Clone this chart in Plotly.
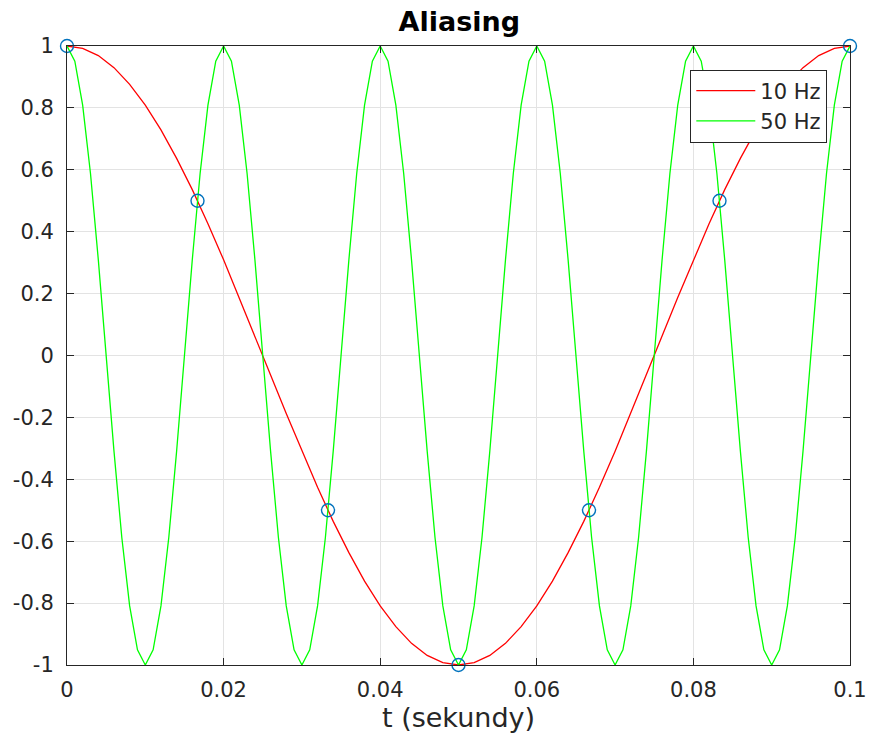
import plotly.graph_objects as go

# 10 Hz signal (red), sampled every 0.002 s
t_red = [0.000, 0.002, 0.004, 0.006, 0.008, 0.010, 0.012, 0.014, 0.016, 0.018,
         0.020, 0.022, 0.024, 0.026, 0.028, 0.030, 0.032, 0.034, 0.036, 0.038,
         0.040, 0.042, 0.044, 0.046, 0.048, 0.050, 0.052, 0.054, 0.056, 0.058,
         0.060, 0.062, 0.064, 0.066, 0.068, 0.070, 0.072, 0.074, 0.076, 0.078,
         0.080, 0.082, 0.084, 0.086, 0.088, 0.090, 0.092, 0.094, 0.096, 0.098, 0.100]
y_red = [1.000, 0.992, 0.969, 0.930, 0.876, 0.809, 0.729, 0.637, 0.536, 0.426,
         0.309, 0.187, 0.063, -0.063, -0.187, -0.309, -0.426, -0.536, -0.637, -0.729,
         -0.809, -0.876, -0.930, -0.969, -0.992, -1.000, -0.992, -0.969, -0.930, -0.876,
         -0.809, -0.729, -0.637, -0.536, -0.426, -0.309, -0.187, -0.063, 0.063, 0.187,
         0.309, 0.426, 0.536, 0.637, 0.729, 0.809, 0.876, 0.930, 0.969, 0.992, 1.000]

# 50 Hz signal (green), sampled every 0.001 s
t_green = [0.000, 0.001, 0.002, 0.003, 0.004, 0.005, 0.006, 0.007, 0.008, 0.009,
           0.010, 0.011, 0.012, 0.013, 0.014, 0.015, 0.016, 0.017, 0.018, 0.019,
           0.020, 0.021, 0.022, 0.023, 0.024, 0.025, 0.026, 0.027, 0.028, 0.029,
           0.030, 0.031, 0.032, 0.033, 0.034, 0.035, 0.036, 0.037, 0.038, 0.039,
           0.040, 0.041, 0.042, 0.043, 0.044, 0.045, 0.046, 0.047, 0.048, 0.049,
           0.050, 0.051, 0.052, 0.053, 0.054, 0.055, 0.056, 0.057, 0.058, 0.059,
           0.060, 0.061, 0.062, 0.063, 0.064, 0.065, 0.066, 0.067, 0.068, 0.069,
           0.070, 0.071, 0.072, 0.073, 0.074, 0.075, 0.076, 0.077, 0.078, 0.079,
           0.080, 0.081, 0.082, 0.083, 0.084, 0.085, 0.086, 0.087, 0.088, 0.089,
           0.090, 0.091, 0.092, 0.093, 0.094, 0.095, 0.096, 0.097, 0.098, 0.099, 0.100]
y_green = [1.000, 0.951, 0.809, 0.588, 0.309, 0.000, -0.309, -0.588, -0.809, -0.951,
           -1.000, -0.951, -0.809, -0.588, -0.309, 0.000, 0.309, 0.588, 0.809, 0.951,
           1.000, 0.951, 0.809, 0.588, 0.309, 0.000, -0.309, -0.588, -0.809, -0.951,
           -1.000, -0.951, -0.809, -0.588, -0.309, 0.000, 0.309, 0.588, 0.809, 0.951,
           1.000, 0.951, 0.809, 0.588, 0.309, 0.000, -0.309, -0.588, -0.809, -0.951,
           -1.000, -0.951, -0.809, -0.588, -0.309, 0.000, 0.309, 0.588, 0.809, 0.951,
           1.000, 0.951, 0.809, 0.588, 0.309, 0.000, -0.309, -0.588, -0.809, -0.951,
           -1.000, -0.951, -0.809, -0.588, -0.309, 0.000, 0.309, 0.588, 0.809, 0.951,
           1.000, 0.951, 0.809, 0.588, 0.309, 0.000, -0.309, -0.588, -0.809, -0.951,
           -1.000, -0.951, -0.809, -0.588, -0.309, 0.000, 0.309, 0.588, 0.809, 0.951, 1.000]

# Samples (60 Hz sampling)
t_samples = [0.0, 0.016667, 0.033333, 0.05, 0.066667, 0.083333, 0.1]
y_samples = [1.0, 0.5, -0.5, -1.0, -0.5, 0.5, 1.0]

x_tickvals = [0, 0.02, 0.04, 0.06, 0.08, 0.1]
x_ticktext = ["0", "0.02", "0.04", "0.06", "0.08", "0.1"]
y_tickvals = [-1, -0.8, -0.6, -0.4, -0.2, 0, 0.2, 0.4, 0.6, 0.8, 1]
y_ticktext = ["-1", "-0.8", "-0.6", "-0.4", "-0.2", "0", "0.2", "0.4", "0.6", "0.8", "1"]

FONT = "DejaVu Sans"
TXT = "#262626"

fig = go.Figure()
fig.add_trace(go.Scatter(x=t_red, y=y_red, mode="lines", name="10 Hz",
                         line=dict(color="#FF0000", width=1.3)))
fig.add_trace(go.Scatter(x=t_green, y=y_green, mode="lines", name="50 Hz",
                         line=dict(color="#00FF00", width=1.3)))
fig.add_trace(go.Scatter(x=t_samples, y=y_samples, mode="markers", showlegend=False,
                         marker=dict(symbol="circle-open", size=13, color="#0072BD",
                                     line=dict(width=1.4)),
                         cliponaxis=False))

axis_common = dict(
    showline=True, linecolor=TXT, linewidth=1, mirror="ticks",
    ticks="inside", ticklen=7, tickcolor=TXT, tickwidth=1,
    showgrid=True, gridcolor="#E3E3E3", gridwidth=1,
    zeroline=False, automargin=False,
    tickfont=dict(family=FONT, size=21, color=TXT),
)

fig.update_layout(
    width=870, height=740,
    margin=dict(l=67, r=20, t=46, b=75),
    paper_bgcolor="white", plot_bgcolor="white",
    title=dict(text="<b>Aliasing</b>", x=0.528, xanchor="center", y=0.971, yanchor="middle",
               font=dict(family=FONT, size=27, color="black")),
    xaxis=dict(range=[0, 0.1], tickvals=x_tickvals, ticktext=x_ticktext,
               ticklabelstandoff=6,
               title=dict(text="t (sekundy)", font=dict(family=FONT, size=27, color=TXT),
                          standoff=4),
               **axis_common),
    yaxis=dict(range=[-1, 1], tickvals=y_tickvals, ticktext=y_ticktext,
               ticklabelstandoff=8, **axis_common),
    legend=dict(x=0.971, y=0.962, xanchor="right", yanchor="top",
                bgcolor="white", bordercolor=TXT, borderwidth=1,
                font=dict(family=FONT, size=21, color=TXT),
                tracegroupgap=0, itemwidth=59),
    showlegend=True,
)

fig.write_html("out.html", config={"displayModeBar": False},
               post_script="document.body.style.margin='0';")
